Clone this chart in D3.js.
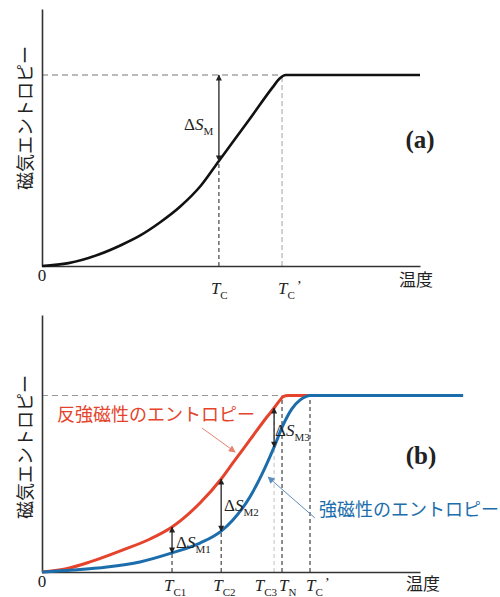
<!DOCTYPE html>
<html>
<head>
<meta charset="utf-8">
<script src="https://cdn.jsdelivr.net/npm/d3@7"></script>
<style>
  html, body { margin: 0; padding: 0; background: #ffffff; }
  svg { display: block; }
  .jp { font-family: "Noto Sans CJK JP", "Noto Sans", sans-serif; }
  .serif { font-family: "Liberation Serif", "DejaVu Serif", serif; }
</style>
</head>
<body>
<svg id="chart" width="500" height="597"></svg>
<script>
// ---- Panel (a): single ferromagnet ----
const tempA    = [0, 7, 15, 21, 26, 31, 36.5, 42, 46.8, 55, 61, 62.8, 64.5, 100];
const entropyA = [0, 0.015, 0.06, 0.11, 0.16, 0.225, 0.31, 0.42, 0.55, 0.771, 0.935, 0.98, 1, 1];
const tcA = 46.8, tcPrimeA = 63.5;

// ---- Panel (b): antiferromagnet (red) vs ferromagnet (blue) ----
const tempAF    = [0, 6.1, 12.7, 21.4, 28.6, 34.4, 41.8, 47.4, 50.5, 55.0, 59.5, 61.4, 63.0, 63.8, 65.1, 111.4];
const entropyAF = [0, 0.017, 0.057, 0.125, 0.187, 0.255, 0.391, 0.527, 0.618, 0.748, 0.878, 0.929, 0.975, 0.994, 1, 1];
const tempFM    = [0, 8.2, 17.2, 25.9, 34.4, 41.8, 47.4, 50.5, 55.0, 58.2, 61.4, 63.8, 66.1, 68.3, 69.8, 70.9, 111.4];
const entropyFM = [0, 0.011, 0.028, 0.057, 0.108, 0.164, 0.232, 0.295, 0.425, 0.555, 0.708, 0.833, 0.924, 0.975, 0.994, 1, 1];
const tcB  = [34.4, 47.4, 61.4];   // T_C1, T_C2, T_C3
const tnB = 63.5, tcPrimeB = 70.9;

const xLabel = "温度";
const yLabel = "磁気エントロピー";
const afLabel = "反強磁性のエントロピー";
const fmLabel = "強磁性のエントロピー";

const RED = "#e5432c", BLUE = "#1b6dab";

const svg = d3.select("#chart");

const defs = svg.append("defs");
function marker(id, color, w, h) {
  defs.append("marker")
    .attr("id", id).attr("viewBox", "0 0 10 10")
    .attr("refX", 9).attr("refY", 5)
    .attr("markerWidth", w).attr("markerHeight", h)
    .attr("markerUnits", "userSpaceOnUse")
    .attr("orient", "auto-start-reverse")
    .append("path").attr("d", "M0,0 L10,5 L0,10 z").attr("fill", color);
}
marker("arrBlack", "#222", 7, 6);
marker("arrRed", "#e9826f", 8, 7);
marker("arrBlue", "#5d8dbd", 8, 7);

const x = d3.scaleLinear().domain([0, 100]).range([42, 420]);
const yA = d3.scaleLinear().domain([0, 1]).range([266, 75]);
const yB = d3.scaleLinear().domain([0, 1]).range([572, 395.5]);

const lineGen = (y) => d3.line().x(d => x(d[0])).y(d => y(d[1])).curve(d3.curveMonotoneX);
const interp = (ts, ss, t) => {
  for (let i = 1; i < ts.length; i++) if (t <= ts[i]) {
    const f = (t - ts[i-1]) / (ts[i] - ts[i-1]); return ss[i-1] + f * (ss[i] - ss[i-1]);
  }
  return ss[ss.length - 1];
};

function axes(g, y, top) {
  g.append("g").attr("transform", `translate(0,${y(0)})`)
    .call(d3.axisBottom(x).tickValues([]).tickSizeOuter(0))
    .call(s => s.select(".domain").attr("stroke", "#333").attr("stroke-width", 1.6));
  g.append("g").attr("transform", `translate(${x(0)},0)`)
    .call(d3.axisLeft(d3.scaleLinear().domain([0, 1]).range([y(0), top])).tickValues([]).tickSizeOuter(0))
    .call(s => s.select(".domain").attr("stroke", "#333").attr("stroke-width", 1.6));
}

function vdash(g, t, y0, y1, color, dash) {
  g.append("line").attr("x1", x(t)).attr("x2", x(t)).attr("y1", y0).attr("y2", y1)
    .attr("stroke", color).attr("stroke-width", 1.1).attr("stroke-dasharray", dash);
}
function hdash(g, t0, t1, yy, color) {
  g.append("line").attr("x1", x(t0)).attr("x2", x(t1)).attr("y1", yy).attr("y2", yy)
    .attr("stroke", color).attr("stroke-width", 1.1).attr("stroke-dasharray", "6,4");
}
function dArrow(g, t, yTop, yBot) {
  g.append("line").attr("x1", x(t)).attr("x2", x(t)).attr("y1", yTop).attr("y2", yBot)
    .attr("stroke", "#222").attr("stroke-width", 1.3)
    .attr("marker-start", "url(#arrBlack)").attr("marker-end", "url(#arrBlack)");
}
function tLabel(g, px, py, sub, anchor, prime) {
  const t = g.append("text").attr("class", "serif").attr("x", px).attr("y", py)
    .attr("text-anchor", anchor).attr("fill", "#222");
  t.append("tspan").attr("font-style", "italic").attr("font-size", 17).text("T");
  t.append("tspan").attr("font-size", 11).attr("dy", 5).text(sub);
  if (prime) t.append("tspan").attr("font-size", 15).attr("dy", -8).attr("dx", 2).text("’");
}
function dsLabel(g, px, py, sub) {
  const t = g.append("text").attr("class", "serif").attr("x", px).attr("y", py).attr("fill", "#222");
  t.append("tspan").attr("font-size", 17).text("Δ");
  t.append("tspan").attr("font-size", 17).attr("font-style", "italic").text("S");
  t.append("tspan").attr("font-size", 11).attr("dy", 5).text(sub);
}
function yTitle(g, cy) {
  g.append("text").attr("class", "jp").attr("font-size", 18).attr("fill", "#222")
    .attr("text-anchor", "middle").attr("dominant-baseline", "central")
    .attr("transform", `translate(24,${cy}) rotate(-90)`).text(yLabel);
}

// ================= Panel (a) =================
const gA = svg.append("g");
const sTcA = interp(tempA, entropyA, tcA);
hdash(gA, 0, tcPrimeA, yA(1), "#777");
vdash(gA, tcA, yA(0), yA(sTcA), "#333", "4,3");
vdash(gA, tcPrimeA, yA(0), yA(1), "#aaa", "5,3");
axes(gA, yA, 9);
gA.append("path").datum(d3.zip(tempA, entropyA)).attr("d", lineGen(yA))
  .attr("fill", "none").attr("stroke", "#111").attr("stroke-width", 2.6);
dArrow(gA, tcA, yA(1), yA(sTcA));
dsLabel(gA, 184, 130, "M");
gA.append("text").attr("class", "serif").attr("x", 42).attr("y", 281).attr("text-anchor", "middle")
  .attr("font-size", 17).attr("fill", "#222").text("0");
tLabel(gA, x(tcA) - 8, 294, "C", "start", false);
tLabel(gA, x(tcPrimeA) - 4, 294, "C", "start", true);
gA.append("text").attr("class", "jp").attr("x", 416).attr("y", 286).attr("text-anchor", "middle")
  .attr("font-size", 17).attr("fill", "#222").text(xLabel);
gA.append("text").attr("class", "serif").attr("x", 420).attr("y", 148).attr("text-anchor", "middle")
  .attr("font-size", 25).attr("font-weight", "bold").attr("fill", "#222").text("(a)");
yTitle(gA, 118);

// ================= Panel (b) =================
const gB = svg.append("g");
hdash(gB, 0, tnB, yB(1), "#999");
const fmAt = t => interp(tempFM, entropyFM, t);
const afAt = t => interp(tempAF, entropyAF, t);
vdash(gB, tcB[0], yB(0), yB(fmAt(tcB[0])), "#333", "4,3");
vdash(gB, tcB[1], yB(0), yB(fmAt(tcB[1])), "#333", "4,3");
vdash(gB, tcB[2], yB(0), yB(afAt(tcB[2])), "#c8c8c8", "4,3");
vdash(gB, tnB, yB(0), yB(1), "#333", "4,3");
vdash(gB, tcPrimeB, yB(0), yB(1), "#333", "4,3");
axes(gB, yB, 315);
gB.append("path").datum(d3.zip(tempAF, entropyAF)).attr("d", lineGen(yB))
  .attr("fill", "none").attr("stroke", RED).attr("stroke-width", 3);
gB.append("path").datum(d3.zip(tempFM, entropyFM)).attr("d", lineGen(yB))
  .attr("fill", "none").attr("stroke", BLUE).attr("stroke-width", 3);
tcB.forEach(t => dArrow(gB, t, yB(afAt(t)), yB(fmAt(t))));
dsLabel(gB, 176, 548, "M1");
dsLabel(gB, 224, 511, "M2");
dsLabel(gB, 275, 436, "M3");

// curve labels with pointer arrows
gB.append("text").attr("class", "jp").attr("x", 57).attr("y", 421)
  .attr("font-size", 18).attr("fill", RED).text(afLabel);
gB.append("line").attr("x1", x(42.3)).attr("y1", yB(0.816)).attr("x2", x(51.1)).attr("y2", yB(0.68))
  .attr("stroke", "#e9826f").attr("stroke-width", 1).attr("marker-end", "url(#arrRed)");
gB.append("text").attr("class", "jp").attr("x", 319).attr("y", 516)
  .attr("font-size", 18).attr("fill", BLUE).text(fmLabel);
gB.append("line").attr("x1", x(72.2)).attr("y1", yB(0.306)).attr("x2", x(59.8)).attr("y2", yB(0.538))
  .attr("stroke", "#5d8dbd").attr("stroke-width", 1).attr("marker-end", "url(#arrBlue)");

gB.append("text").attr("class", "serif").attr("x", 42).attr("y", 587).attr("text-anchor", "middle")
  .attr("font-size", 17).attr("fill", "#222").text("0");
tLabel(gB, x(tcB[0]) - 8, 591, "C1", "start", false);
tLabel(gB, x(tcB[1]) - 8, 591, "C2", "start", false);
tLabel(gB, x(tcB[2]) + 3, 591, "C3", "end", false);
tLabel(gB, x(tnB) - 3, 591, "N", "start", false);
tLabel(gB, x(tcPrimeB) - 4, 591, "C", "start", true);
gB.append("text").attr("class", "jp").attr("x", 423).attr("y", 590).attr("text-anchor", "middle")
  .attr("font-size", 17).attr("fill", "#222").text(xLabel);
gB.append("text").attr("class", "serif").attr("x", 421).attr("y", 464).attr("text-anchor", "middle")
  .attr("font-size", 25).attr("font-weight", "bold").attr("fill", "#222").text("(b)");
yTitle(gB, 447);
</script>
</body>
</html>
